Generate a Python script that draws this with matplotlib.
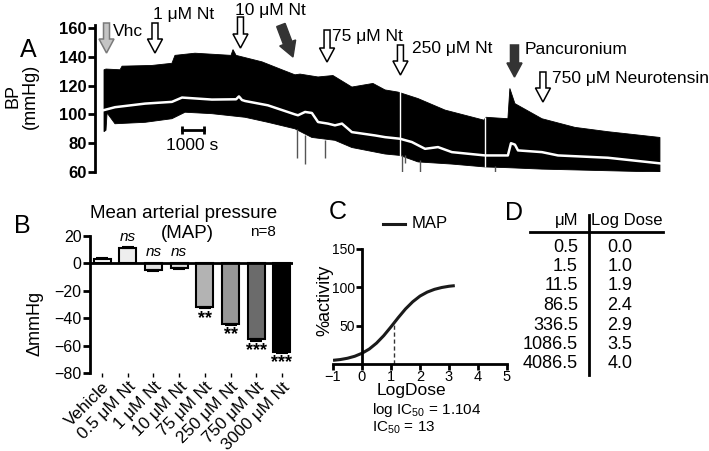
import numpy as np
import matplotlib
matplotlib.use('Agg')
import matplotlib.pyplot as plt
from matplotlib.patches import FancyArrow
from matplotlib.lines import Line2D
from matplotlib.transforms import Affine2D, IdentityTransform

plt.rcParams['font.family'] = ['Liberation Sans', 'DejaVu Sans']
plt.rcParams['mathtext.fontset'] = 'custom'
plt.rcParams['mathtext.rm'] = 'Liberation Sans'
plt.rcParams['axes.linewidth'] = 2

W, H = 709, 451

# ===== A: blood pressure trace (time in s, mmHg) =====
upper_t = [0, 90, 730, 820, 2180, 3090, 3230, 4140, 5780, 5870, 6010, 7190, 8100,
           8690, 8920, 9740, 10420, 11280, 12240, 12790, 13380, 14290, 15520,
           17290, 17380, 18380, 18470, 18700, 19930, 21430, 22930, 25300]
upper_bp = [131, 131.5, 131, 133.5, 134, 135.5, 141, 142.5, 141, 145, 141, 136.5, 131,
            127.5, 128, 126, 127, 119, 121.5, 117, 115.5, 111, 103,
            96, 98, 97, 118, 107.5, 97, 91, 88, 84]
lower_t = [0, 90, 140, 500, 1870, 3090, 3690, 4910, 6420, 7460, 8690, 9010, 9460,
           10510, 11280, 12790, 13470, 14290, 15830, 17340, 18380, 19930, 25300]
lower_bp = [88, 89, 101, 93.5, 94.5, 97, 101.5, 100.5, 98, 94.5, 90, 87.5, 84,
            82, 77, 72.5, 71.5, 67, 65.5, 63.5, 63, 62, 60]
map_t = [0, 500, 1870, 3090, 3550, 4910, 6010, 6140, 6280, 6420, 7460, 8690, 8830,
         9150, 9460, 9740, 10190, 10510, 10830, 11280, 12330, 12790, 13470, 14010,
         14610, 15200, 15830, 17340, 18380, 18520, 18700, 18840, 19930, 20660,
         22930, 25300]
map_bp = [103, 105, 107.5, 108.7, 111.7, 110.3, 110.5, 112.5, 110, 109.3, 106.3, 100,
          99.4, 101.7, 101, 94.7, 93.6, 92.4, 93.6, 87.7, 85.4, 84.2, 83.1, 80.8,
          76.1, 77.3, 73.8, 71.5, 71.5, 80, 79, 75, 73.8, 71.5, 69.9, 66]
spike_t = [8780, 9150, 10060, 13560, 13700, 14380, 17790]
spike_lo = [70, 65.5, 70, 56.5, 66, 56.5, 56.5]
spike_hi = [90, 86, 82, 72, 72, 68, 64]
gap_t = [13470, 17340]
gap_lo = [57, 63.5]
gap_hi = [124, 98]

events = ['Vhc', '1 μM Nt', '10 μM Nt', '75 μM Nt', '250 μM Nt', 'Pancuronium',
          '750 μM Neurotensin']
event_t = [114, 2320, 6210, 10150, 13490, 18680, 19975]

# ===== B: change in MAP =====
groups = ['Vehicle', '0.5 μM Nt', '1 μM Nt', '10 μM Nt', '75 μM Nt', '250 μM Nt',
          '750 μM Nt', '3000 μM Nt']
delta_map = [3, 11, -4.5, -3, -32, -44, -55.5, -64.5]
delta_sem = [0.8, 0.8, 0.8, 0.8, 0.8, 0.8, 0.8, 0.8]
signif = ['', 'ns', 'ns', 'ns', '**', '**', '***', '***']
bar_colors = ['white', '#eeeeee', '#e2e2e2', '#dcdcdc', '#b3b3b3', '#979797',
              '#6b6b6b', '#000000']

# ===== C: dose response =====
log_dose = [-1, -0.75, -0.5, -0.25, 0, 0.25, 0.5, 0.75, 1.0, 1.25, 1.5, 1.75, 2.0,
            2.25, 2.5, 2.75, 3.0, 3.2]
activity = [4.8, 5.8, 7.5, 10.1, 14.0, 19.5, 27.2, 37.0, 48.5, 60.5, 71.8, 81.2,
            88.6, 93.8, 97.4, 99.8, 101.4, 102.2]
log_ic50 = 1.104
ic50 = 13

# ===== D: table =====
dose_um = [0.5, 1.5, 11.5, 86.5, 336.5, 1086.5, 4086.5]
dose_log = [0.0, 1.0, 1.9, 2.4, 2.9, 3.5, 4.0]


fig = plt.figure(figsize=(W / 100, H / 100), dpi=100)
# pixel coords measured from top-left of the figure
tpx = Affine2D().scale(1, -1).translate(0, H) + IdentityTransform()


def ax_rect(x0, y0, x1, y1):
    return [x0 / W, 1 - y1 / H, (x1 - x0) / W, (y1 - y0) / H]


# ---------- A ----------
ax_a = fig.add_axes(ax_rect(95, 28, 705, 172))
ax_a.fill(np.r_[upper_t, lower_t[::-1]], np.r_[upper_bp, lower_bp[::-1]],
          color='black', lw=0.6)
ax_a.vlines(spike_t, spike_lo, spike_hi, color='#555555', lw=1)
ax_a.vlines(gap_t, gap_lo, gap_hi, color='white', lw=1)
ax_a.plot(map_t, map_bp, color='white', lw=1.8)
ax_a.set_xlim(-410, 27350)
ax_a.set_ylim(60, 160)
ax_a.set_yticks([60, 80, 100, 120, 140, 160])
ax_a.set_xticks([])
for s in ['top', 'right', 'bottom']:
    ax_a.spines[s].set_visible(False)
ax_a.spines['left'].set_bounds(60, 162)
ax_a.tick_params(axis='y', length=5, width=2, labelsize=12, pad=1)
for lbl in ax_a.get_yticklabels():
    lbl.set_fontweight('bold')
# scale bar
ax_a.plot([3560, 4560], [89.4, 89.4], color='black', lw=2, marker='|', ms=6, mew=2)
ax_a.text(4030, 78.5, '1000 s', ha='center', va='center', fontsize=12.5)

fig.text(28, 50, 'A', transform=tpx, fontsize=18, ha='center', va='center')
fig.text(22, 96, 'BP\n(mmHg)', transform=tpx, fontsize=13, ha='center', va='center',
         rotation=90, linespacing=1.05)

# arrows: (tail y, tip y, style, label dx, label y)
arrow_layout = [
    (23, 53, 'gray', 6.5, 31),
    (23, 53, 'open', -2, 14),
    (17, 48, 'open', -5.5, 10),
    (30, 62, 'open', 5, 36),
    (45, 75, 'open', 11.5, 49),
    (45, 77, 'dark', 10.5, 50),
    (72, 102, 'open', 9, 79),
]
fig.canvas.draw()


def t_to_px(t):
    return ax_a.transData.transform((t, 100))[0]


for name, t, (y0, y1, style, dx, ly) in zip(events, event_t, arrow_layout):
    xc = t_to_px(t)
    if style == 'open':
        fc, ec, w, hw = 'white', 'black', 6, 15
    elif style == 'gray':
        fc, ec, w, hw = '#c4c4c4', '#7a7a7a', 6, 15
    else:
        fc, ec, w, hw = '#333333', '#333333', 8, 15
    arr = FancyArrow(xc, y0, 0, y1 - y0, width=w, head_width=hw, head_length=14,
                     length_includes_head=True, transform=tpx, fc=fc, ec=ec, lw=1.1)
    fig.add_artist(arr)
    fig.text(xc + dx, ly, name, transform=tpx, fontsize=12.5, ha='left', va='center')

# slanted dark arrow after 10 uM
xt0, xt1 = t_to_px(8050), t_to_px(8600)
fig.add_artist(FancyArrow(xt0, 25, xt1 - xt0, 32, width=9, head_width=17, head_length=15,
                          length_includes_head=True, transform=tpx,
                          fc='#333333', ec='#333333', lw=1))

# ---------- B ----------
ax_b = fig.add_axes(ax_rect(90, 236, 293, 373))
xpos = np.arange(len(groups))
ax_b.bar(xpos, delta_map, width=0.66, color=bar_colors, edgecolor='black', lw=1.5,
         zorder=2)
err_lo = [s if v < 0 else 0 for v, s in zip(delta_map, delta_sem)]
err_hi = [s if v > 0 else 0 for v, s in zip(delta_map, delta_sem)]
ax_b.errorbar(xpos, delta_map, yerr=[err_lo, err_hi], fmt='none', ecolor='black',
              elinewidth=1.5, capsize=4, capthick=1.5, zorder=3)
ax_b.axhline(0, color='black', lw=2, zorder=4)
ax_b.set_xlim(-0.47, 7.43)
ax_b.set_ylim(-80, 20)
ax_b.set_yticks([-80, -60, -40, -20, 0, 20])
ax_b.set_xticks(xpos)
ax_b.set_xticklabels(groups, rotation=45, ha='right', rotation_mode='anchor',
                     fontsize=12.3)
for s in ['top', 'right', 'bottom']:
    ax_b.spines[s].set_visible(False)
ax_b.tick_params(axis='y', length=5, width=2, labelsize=11.5, pad=1)
ax_b.tick_params(axis='x', length=3, width=1, pad=1.5)
for x, v, s in zip(xpos, delta_map, signif):
    if s == 'ns':
        ax_b.text(x, max(v, 0) + 3, s, ha='center', va='bottom', fontsize=11,
                  style='italic')
    elif s:
        ax_b.text(x, v - 2, s, ha='center', va='top', fontsize=13, fontweight='bold')

fig.text(184, 213, 'Mean arterial pressure', transform=tpx, fontsize=13.5,
         ha='center', va='center')
fig.text(187, 234, '(MAP)', transform=tpx, fontsize=13.5, ha='center', va='center')
fig.text(263, 232, 'n=8', transform=tpx, fontsize=11, ha='center', va='center')
fig.text(22, 226, 'B', transform=tpx, fontsize=18, ha='center', va='center')
fig.text(35, 323, 'ΔmmHg', transform=tpx, fontsize=13, ha='center', va='center',
         rotation=90)

# ---------- C ----------
ax_c = fig.add_axes(ax_rect(333, 249, 507, 364))
ax_c.plot(log_dose, activity, color='#1a1a1a', lw=2.2, solid_capstyle='butt')
ax_c.plot([log_ic50, log_ic50], [0, 55], color='#333333', lw=1, ls=(0, (3, 2)))
ax_c.set_xlim(-1, 5)
ax_c.set_ylim(0, 150)
ax_c.set_xticks([-1, 0, 1, 2, 3, 4, 5])
ax_c.set_yticks([50, 100, 150])
ax_c.spines['left'].set_position(('data', 0))
for s in ['top', 'right']:
    ax_c.spines[s].set_visible(False)
ax_c.tick_params(axis='y', length=4, width=2, labelsize=10, pad=1)
ax_c.tick_params(axis='x', length=4, width=2, labelsize=10.5, pad=0)

fig.add_artist(Line2D([383, 405], [224, 224], transform=tpx, color='#1a1a1a', lw=2.2))
fig.text(412, 224, 'MAP', transform=tpx, fontsize=12, ha='left', va='center')
fig.text(338, 212, 'C', transform=tpx, fontsize=18, ha='center', va='center')
fig.text(325, 300, '%activity', transform=tpx, fontsize=13, ha='center', va='center',
         rotation=90)
fig.text(411, 390, 'LogDose', transform=tpx, fontsize=12.5, ha='center', va='center')
fig.text(372, 410, 'log IC$_{50}$ = %.3f' % log_ic50, transform=tpx, fontsize=11,
         ha='left', va='center')
fig.text(372, 428, 'IC$_{50}$ = %d' % ic50, transform=tpx, fontsize=11,
         ha='left', va='center')

# ---------- D ----------
fig.text(514, 213, 'D', transform=tpx, fontsize=18, ha='center', va='center')
fig.text(578, 221, 'μM', transform=tpx, fontsize=12, ha='right', va='center')
fig.text(627, 221, 'Log Dose', transform=tpx, fontsize=12, ha='center', va='center')
fig.add_artist(Line2D([530, 663], [232, 232], transform=tpx, color='black', lw=2))
fig.add_artist(Line2D([588.5, 588.5], [215, 375], transform=tpx, color='black', lw=2))
for i, (u, lg) in enumerate(zip(dose_um, dose_log)):
    y = 247 + i * 19.5
    fig.text(578, y, '%g' % u, transform=tpx, fontsize=13, ha='right', va='center')
    fig.text(620, y, '%.1f' % lg, transform=tpx, fontsize=13, ha='center', va='center')

fig.savefig('out.png', dpi=100)
